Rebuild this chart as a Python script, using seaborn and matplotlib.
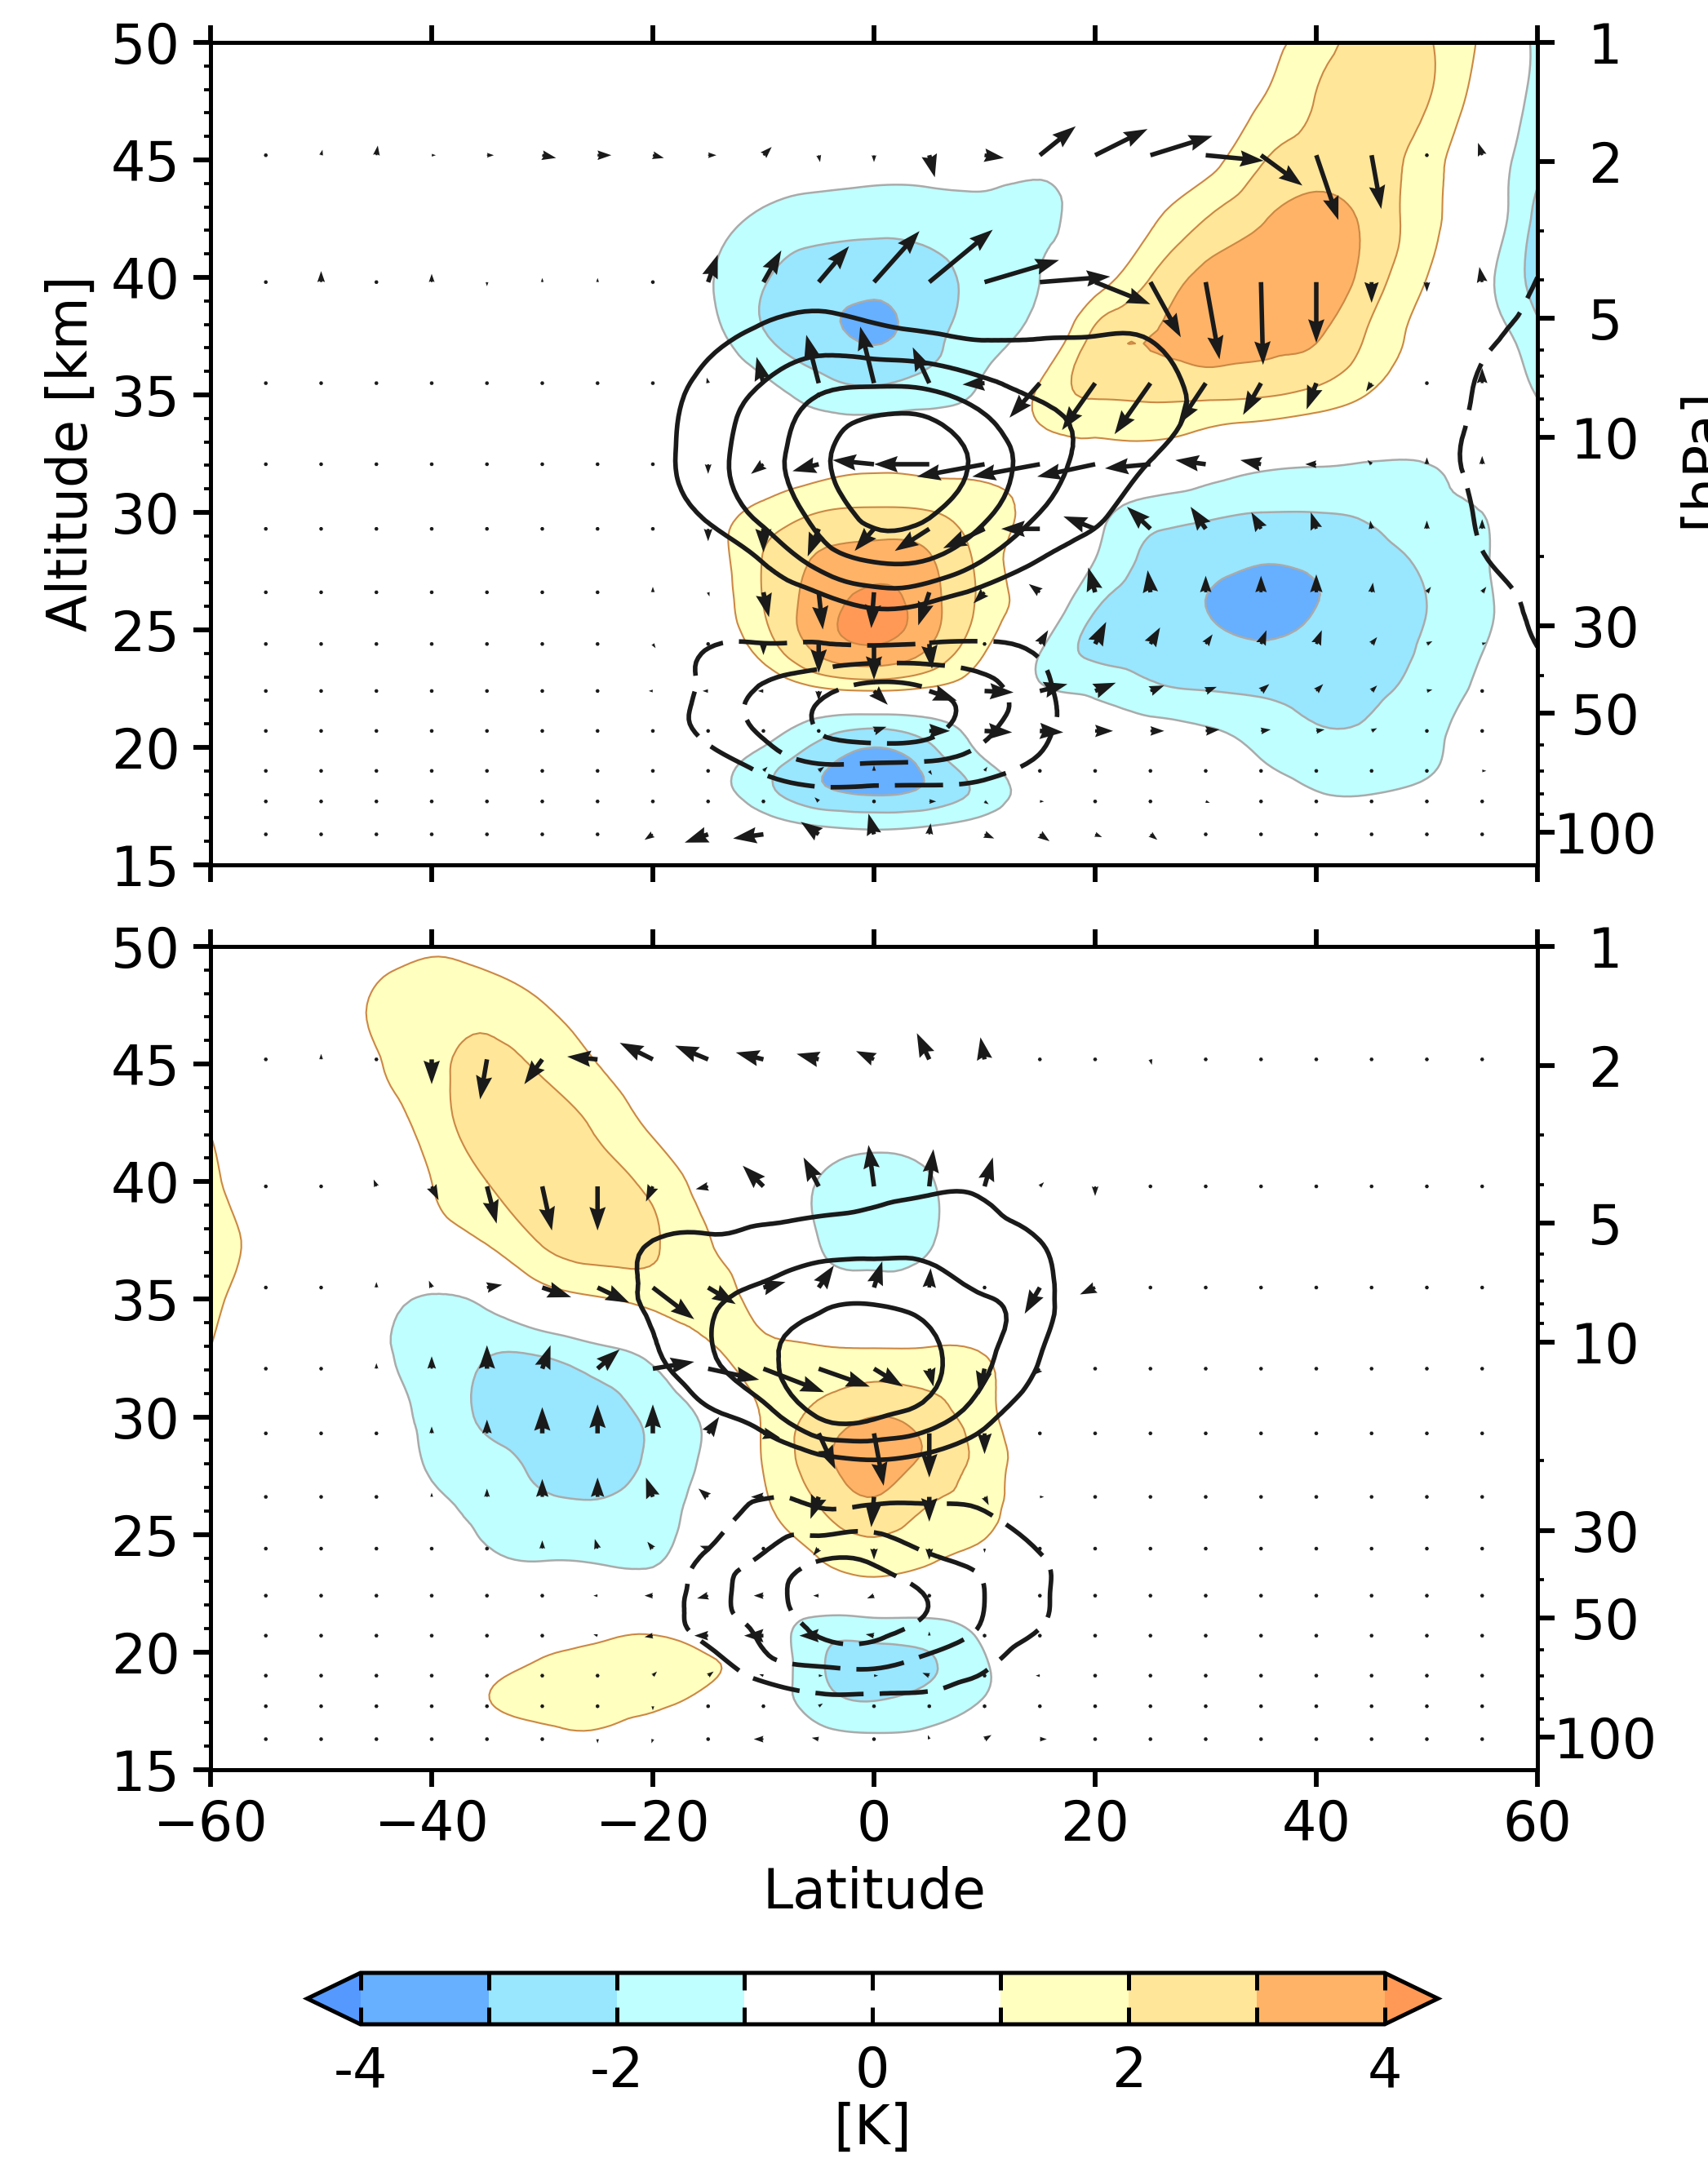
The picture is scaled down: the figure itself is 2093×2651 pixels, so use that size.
import numpy as np
import seaborn as sns
import matplotlib.pyplot as plt
from matplotlib.colors import ListedColormap, BoundaryNorm
from matplotlib.tri import Triangulation, UniformTriRefiner

W_PX, H_PX = 2093, 2651

# grid of the temperature and line fields
FIELD_LAT = [-60, -55, -50, -45, -40, -35, -30, -25, -20, -15, -10, -5, 0, 5, 10, 15, 20, 25, 30, 35, 40, 45, 50, 55, 60]
FIELD_ALT = [15, 16.5, 18, 19.5, 21, 22.5, 24, 26, 28, 30, 32.5, 35, 37.5, 40, 42.5, 45, 47.5, 50]

T_TOP = [
    [0,0,0,0,0, 0,0,0,0,0, 0,-.1,-.3,-.1,0, 0,0,0,0,0, 0,0,0,0,0],
    [0,0,0,0,0, 0,0,0,0,-.1, -.4,-.8,-1.0,-.8,-.4, -.1,0,0,0,-.1, -.3,-.3,-.1,0,0],
    [0,0,0,0,0, 0,0,0,0,-.5, -1.6,-2.7,-3.05,-2.7,-1.6, -.5,0,-.1,-.2,-.5, -.95,-1.0,-.7,-.2,0],
    [0,0,0,0,0, 0,0,0,0,-.4, -1.4,-2.6,-3.4,-2.5,-1.0, -.2,-.1,-.3,-.6,-1.0, -1.4,-1.5,-1.2,-.4,0],
    [0,0,0,0,0, 0,0,0,0,0, -.4,-1.3,-1.7,-1.3,-.5, -.3,-.7,-.8,-1.05,-1.4, -2.0,-1.9,-1.3,-.6,0],
    [0,0,0,0,0, 0,0,0,0,0, .2,.9,1.2,.9,.2, -.9,-1.2,-1.8,-2.05,-2.2, -2.35,-2.2,-1.6,-.8,-.1],
    [0,0,0,0,0, 0,0,0,0,.1, 1.3,3.1,3.7,2.8,1.0, -1.0,-2.2,-2.4,-2.6,-2.8, -2.7,-2.5,-1.8,-1.0,-.2],
    [0,0,0,0,0, 0,0,0,0,.3, 2.0,3.5,4.3,3.4,1.7, 0,-1.9,-2.6,-3.0,-3.4, -3.0,-2.6,-2.0,-1.2,-.2],
    [0,0,0,0,0, 0,0,0,0,.4, 2.05,3.1,3.5,3.1,1.6, .1,-1.0,-2.3,-2.6,-2.9, -2.8,-2.5,-1.75,-1.1,-.2],
    [0,0,0,0,0, 0,0,0,0,.5, 1.3,2.0,2.15,2.05,1.4, .6,-.6,-1.5,-1.8,-2.0, -2.0,-1.8,-1.2,-1.0,-.2],
    [0,0,0,0,0, 0,0,0,0,0, 0,.2,.4,.3,.4, .6,.6,.6,.1,-.4, -.6,-.8,-.85,-.4,0],
    [0,0,0,0,0, 0,0,0,0,-.1, -.6,-1.4,-1.7,-1.4,-.7, 1.2,2.1,2.2,2.2,2.1, 1.7,.9,.2,0,-1.05],
    [0,0,0,0,0, 0,0,0,-.1,-.6, -1.9,-2.7,-3.1,-2.4,-1.35, -.3,2.3,3.0,3.4,3.3, 3.1,1.8,.6,-.3,-1.7],
    [0,0,0,0,0, 0,0,0,-.3,-.9, -1.9,-2.5,-2.7,-2.4,-1.6, -1.0,.4,2.0,3.3,3.7, 3.7,2.5,1.0,-.6,-2.4],
    [0,0,0,0,0, 0,0,0,-.1,-.5, -1.2,-1.5,-1.6,-1.5,-1.3, -1.2,-.4,.8,2.0,2.9, 3.4,2.7,1.35,-.1,-2.3],
    [0,0,0,0,0, 0,0,0,0,-.1, -.3,-.5,-.6,-.6,-.6, -.8,-.5,.1,.6,1.9, 2.5,2.4,1.5,-.1,-1.7],
    [0,0,0,0,0, 0,0,0,0,0, 0,0,0,0,0, 0,0,.2,.4,1.0, 2.05,2.6,2.05,.4,-1.4],
    [0,0,0,0,0, 0,0,0,0,0, 0,0,0,0,0, 0,0,0,.3,.7, 1.5,2.5,2.1,.8,-1.3],
]

T_BOT = [
    [0,0,0,0,0, 0,0,0,0,0, 0,0,0,0,0, 0,0,0,0,0, 0,0,0,0,0],
    [0,0,0,0,0, .2,.7,.9,.5,.2, 0,-.7,-.95,-.8,-.2, 0,0,0,0,0, 0,0,0,0,0],
    [0,0,0,0,0, .95,1.5,1.4,1.3,.7, -.2,-1.6,-2.05,-1.7,-.95, 0,0,0,0,0, 0,0,0,0,0],
    [0,0,0,0,0, .4,1.15,1.4,1.5,1.15, .1,-1.85,-2.4,-2.1,-1.1, -.1,0,0,0,0, 0,0,0,0,0],
    [0,0,0,0,0, 0,.3,.6,.8,.3, -.3,-1.5,-1.5,-1.4,-.7, 0,0,0,0,0, 0,0,0,0,0],
    [0,0,0,0,0, -.1,-.4,-.4,-.4,0, 0,.1,.3,.1,0, 0,0,0,0,0, 0,0,0,0,0],
    [0,0,0,0,0, -.8,-1.05,-1.1,-1.1,-.3, .5,1.0,1.5,1.1,.7, 0,0,0,0,0, 0,0,0,0,0],
    [0,0,0,0,-.6, -1.3,-1.7,-1.8,-1.4,-.5, .8,1.9,2.7,1.9,1.4, 0,0,0,0,0, 0,0,0,0,0],
    [0,0,0,0,-1.15, -1.6,-2.3,-2.5,-1.8,-.7, 1.05,2.6,3.5,2.7,1.6, .2,0,0,0,0, 0,0,0,0,0],
    [0,0,0,-.5,-1.3, -2.2,-2.6,-2.4,-1.8,-.7, 1.1,2.3,3.0,2.5,1.35, .1,0,0,0,0, 0,0,0,0,0],
    [.9,0,0,-.75,-1.4, -2.0,-2.05,-1.5,-.8,.6, 1.3,1.3,1.3,1.3,1.05, .2,0,0,0,0, 0,0,0,0,0],
    [1.4,.2,0,-.6,-1.1, -.7,.4,.9,1.35,1.5, .5,-.3,-.4,-.3,0, 0,0,0,0,0, 0,0,0,0,0],
    [1.6,.55,0,0,.4, 1.1,2.1,2.5,2.15,1.05, .2,-1.0,-1.4,-1.1,-.1, 0,0,0,0,0, 0,0,0,0,0],
    [1.3,.2,0,0,1.0, 2.0,2.5,2.4,1.7,.6, 0,-1.05,-1.5,-1.1,-.1, 0,0,0,0,0, 0,0,0,0,0],
    [.9,.1,0,.4,1.5, 2.5,2.6,1.8,.8,.2, 0,-.2,-.4,-.2,0, 0,0,0,0,0, 0,0,0,0,0],
    [.2,0,0,.9,1.7, 2.3,1.8,1.0,.4,.1, 0,0,0,0,0, 0,0,0,0,0, 0,0,0,0,0],
    [0,0,.1,1.2,1.7, 1.6,1.05,.5,.1,0, 0,0,0,0,0, 0,0,0,0,0, 0,0,0,0,0],
    [0,0,0,.4,.85, .55,.1,0,0,0, 0,0,0,0,0, 0,0,0,0,0, 0,0,0,0,0],
]

C_TOP = [
    [0,0,0,0,0, 0,0,0,0,0, 0,0,0,0,0, 0,0,0,0,0, 0,0,0,0,0],
    [0,0,0,0,0, 0,0,0,0,0, 0,0,0,0,0, 0,0,0,0,0, 0,0,0,0,0],
    [0,0,0,0,0, 0,0,0,0,0, -.4,-.7,-.7,-.7,-.6, -.2,0,0,0,0, 0,0,0,0,0],
    [0,0,0,0,0, 0,0,0,0,-.6, -1.5,-2.2,-2.2,-2.1,-1.6, -.9,-.1,0,0,0, 0,0,0,0,0],
    [0,0,0,0,0, 0,0,0,-.35,-1.35, -2.2,-3.1,-3.7,-3.4,-2.3, -1.3,-.3,0,0,0, 0,0,0,0,0],
    [0,0,0,0,0, 0,0,0,-.3,-1.25, -2.1,-2.7,-3.3,-3.0,-2.3, -1.3,-.2,0,0,0, 0,0,0,0,0],
    [0,0,0,0,0, 0,0,0,-.1,-1.1, -1.3,-1.4,-1.45,-1.5,-1.4, -.9,0,0,0,0, 0,0,0,0,-.9],
    [0,0,0,0,0, 0,0,0,0,0, 0,.4,1.1,.8,.2, 0,0,0,0,0, 0,0,0,-.4,-1.3],
    [0,0,0,0,0, 0,0,0,0,.3, 1.1,2.4,3.1,3.0,2.0, 1.0,.5,.2,0,0, 0,0,0,-.9,-1.6],
    [0,0,0,0,0, 0,0,0,.4,1.2, 2.3,3.3,4.3,4.1,3.2, 2.0,1.2,.5,.1,0, 0,0,-.1,-1.2,-1.7],
    [0,0,0,0,0, 0,0,0,.6,1.6, 2.6,3.7,4.8,4.7,3.6, 2.5,1.7,1.1,.3,0, 0,0,-.4,-1.4,-1.8],
    [0,0,0,0,0, 0,0,0,.5,1.4, 2.2,3.0,3.3,3.2,2.5, 1.9,1.8,1.6,.6,0, 0,0,-.2,-1.2,-1.7],
    [0,0,0,0,0, 0,0,0,.1,.7, 1.2,1.5,1.3,1.1,.9, .95,1.0,.92,.1,0, 0,0,-.1,-.7,-1.6],
    [0,0,0,0,0, 0,0,0,0,.1, .4,.5,.4,.2,.1, .1,.1,.1,0,0, 0,0,0,0,-1.0],
    [0,0,0,0,0, 0,0,0,0,0, 0,0,0,0,0, 0,0,0,0,0, 0,0,0,0,-.2],
    [0,0,0,0,0, 0,0,0,0,0, 0,0,0,0,0, 0,0,0,0,0, 0,0,0,0,0],
    [0,0,0,0,0, 0,0,0,0,0, 0,0,0,0,0, 0,0,0,0,0, 0,0,0,0,0],
    [0,0,0,0,0, 0,0,0,0,0, 0,0,0,0,0, 0,0,0,0,0, 0,0,0,0,0],
]

C_BOT = [
    [0,0,0,0,0, 0,0,0,0,0, 0,0,0,0,0, 0,0,0,0,0, 0,0,0,0,0],
    [0,0,0,0,0, 0,0,0,0,0, 0,0,0,0,0, 0,0,0,0,0, 0,0,0,0,0],
    [0,0,0,0,0, 0,0,0,0,0, -.3,-.8,-.8,-.8,-.4, 0,0,0,0,0, 0,0,0,0,0],
    [0,0,0,0,0, 0,0,0,0,-.5, -1.7,-2.1,-2.2,-1.7,-1.2, -.1,0,0,0,0, 0,0,0,0,0],
    [0,0,0,0,0, 0,0,0,-.3,-1.4, -2.2,-3.2,-3.3,-2.7,-1.9, -1.0,0,0,0,0, 0,0,0,0,0],
    [0,0,0,0,0, 0,0,0,-.4,-1.5, -2.6,-3.4,-3.5,-2.9,-2.0, -1.2,-.2,0,0,0, 0,0,0,0,0],
    [0,0,0,0,0, 0,0,0,-.1,-1.2, -2.1,-2.9,-2.8,-2.1,-1.8, -1.1,-.1,0,0,0, 0,0,0,0,0],
    [0,0,0,0,0, 0,0,0,0,-.3, -1.3,-1.1,-1.25,-1.2,-1.0, -.2,0,0,0,0, 0,0,0,0,0],
    [0,0,0,0,0, 0,0,0,0,0, .1,.5,.8,.5,.1, 0,0,0,0,0, 0,0,0,0,0],
    [0,0,0,0,0, 0,0,0,0,.8, 1.5,3.05,3.1,2.5,1.3, .3,0,0,0,0, 0,0,0,0,0],
    [0,0,0,0,0, 0,0,0,.8,1.85, 2.8,3.4,3.6,3.2,2.2, 1.0,0,0,0,0, 0,0,0,0,0],
    [0,0,0,0,0, 0,0,.7,1.1,1.8, 2.3,2.8,2.9,2.6,2.05, 1.4,.1,0,0,0, 0,0,0,0,0],
    [0,0,0,0,0, 0,0,.4,1.0,1.1, 1.25,1.5,1.6,1.65,1.4, 1.0,0,0,0,0, 0,0,0,0,0],
    [0,0,0,0,0, 0,0,0,0,.3, .4,.4,.6,.8,.8, .3,0,0,0,0, 0,0,0,0,0],
    [0,0,0,0,0, 0,0,0,0,0, 0,0,0,0,0, 0,0,0,0,0, 0,0,0,0,0],
    [0,0,0,0,0, 0,0,0,0,0, 0,0,0,0,0, 0,0,0,0,0, 0,0,0,0,0],
    [0,0,0,0,0, 0,0,0,0,0, 0,0,0,0,0, 0,0,0,0,0, 0,0,0,0,0],
    [0,0,0,0,0, 0,0,0,0,0, 0,0,0,0,0, 0,0,0,0,0, 0,0,0,0,0],
]

# arrows sit on their own grid, values are lengths
ARROW_LAT = [-55, -50, -45, -40, -35, -30, -25, -20, -15, -10, -5, 0, 5, 10, 15, 20, 25, 30, 35, 40, 45, 50, 55]
ARROW_ALT = [16.3, 17.7, 19.0, 20.7, 22.4, 24.4, 26.6, 29.3, 32.05, 35.5, 39.8, 45.2]

U_TOP = [
    [0,0,0,0,0,0,0,-6,-17,-22,-13,-4,1,7,7,5,5,0,0,0,0,0,0],
    [0,0,0,0,0,0,0,0,0,-1,-3,0,5,3,3,0,0,3,0,0,0,0,0],
    [0,0,0,0,0,0,0,0,0,3,4,0,2,2,0,0,0,0,0,0,0,0,3],
    [0,0,0,0,0,0,0,-1,0,1,0,9,15,20,17,13,10,10,7,6,4,0,0],
    [0,0,0,0,0,0,0,-3,-4,-4,0,10,20,21,20,15,10,8,6,5,4,4,0],
    [0,0,0,0,0,0,0,2,0,0,0,0,2,0,6,8,7,5,4,4,4,4,3],
    [0,0,0,0,0,0,0,0,1,4,3,-2,-8,-8,-8,-5,-2,0,0,0,1,3,3],
    [0,0,0,0,0,0,0,0,0,0,-8,-14,-25,-30,-28,-23,-17,-11,-7,-4,-1,0,0],
    [0,0,0,0,0,0,0,0,0,-9,-19,-30,-40,-49,-49,-42,-33,-22,-15,-8,-3,0,0],
    [0,0,0,0,0,0,0,0,-1,-5,-9,-10,-12,-16,-22,-24,-26,-20,-13,-7,-4,0,0],
    [0,0,0,0,0,0,0,2,7,13,22,33,46,54,51,40,22,10,1.5,0,0,0,-2],
    [0,1,1,3,5,10,10,8,6,6,1,0,4,14,26,38,45,42,30,16,7,1,-3],
]
W_TOP = [
    [0,0,0,0,0,0,0,-4,-6,-3,9,15,8,-3,-5,-2,-4,0,2,2,0,0,0],
    [0,0,0,0,0,0,0,0,0,2,3,2,0,-2,0,0,0,-1,0,0,0,0,0],
    [0,0,0,0,0,0,0,0,0,3,3,4,-3,3,0,0,0,0,0,0,0,0,0],
    [0,0,0,0,0,0,0,2,0,-1,0,3,0,-1,-1,0,0,1,1,1,2,0,0],
    [0,0,0,0,0,0,0,0,0,0,-7,-10,-7,-1,5,6,4,3,5,5,4,1,0],
    [0,0,0,0,0,0,0,-3,0,-8,-21,-26,-18,0,10,16,12,7,10,10,5,2,1],
    [0,0,0,0,0,0,0,4,-3,-18,-27,-26,-24,-8,6,18,16,12,12,13,7,4,4],
    [0,0,0,0,0,0,0,0,-9,-17,-20,-16,-16,-14,0,9,16,16,12,12,6,6,7],
    [0,0,0,0,0,0,0,0,-7,-7,-5,3,0,-9,-9,-9,-3,3,3,0,3,5,6],
    [0,0,0,0,0,0,0,0,4,19,35,41,26,-1,-25,-34,-37,-30,-23,-19,-6,0,11],
    [0,8,0,6,-3,3,3,1,20,23,26,37,38,16,4,-16,-40,-56,-60,-44,-15,-7,11],
    [0,4,7,0,0,-2,0,-2,0,6,-5,-5,-16,-2,21,19,14,-4,-22,-47,-39,2,9],
]

U_BOT = [
    [0,0,0,0,0,0,0,-1,2,-7,-5,0,-1,5,5,0,0,0,0,0,0,0,0],
    [0,0,0,0,0,0,0,0,0,2,3,0,0,0,0,0,0,0,0,0,0,0,0],
    [0,0,0,0,0,0,1,3,4,-3,3,3,-5,0,-3,0,0,0,0,0,0,0,0],
    [0,0,0,0,0,0,-3,-6,-10,-14,-14,-6,0,-2,0,0,0,0,0,0,0,0,0],
    [0,0,0,0,0,0,-3,-6,-8,-7,-4,-5,-2,-1,0,0,0,0,0,0,0,0,0],
    [0,0,0,0,0,0,-2,-4,-6,0,-4,0,0,0,0,0,0,0,0,0,0,0,0],
    [0,0,0,0,0,0,0,-5,-7,-9,-6,-2,0,3,3,0,0,0,0,0,0,0,0],
    [0,0,0,0,0,0,0,0,8,12,12,7,0,0,-2,0,0,0,0,0,0,0,0],
    [0,0,0,0,0,6,16,30,37,44,37,21,3,-4,-6,-2,0,0,0,0,0,0,0],
    [0,0,0,-2,11,21,23,30,20,16,11,6,1,-2,-11,-11,0,2,1,0,0,0,0],
    [0,0,-2,5,7,7,0,-5,-9,-15,-11,-4,3,6,3,0,2,2,0,0,0,0,0],
    [0,0,0,0,-5,-13,-22,-24,-24,-20,-16,-13,-9,-3,0,0,1,1,0,0,0,0,0],
]
W_BOT = [
    [0,0,0,0,0,0,-3,-3,2,0,1,2,3,3,0,0,0,0,0,0,0,0,0],
    [0,0,0,0,0,0,-2,-3,-2,0,2,0,2,2,0,0,0,0,0,0,0,0,0],
    [0,0,0,0,0,0,0,3,3,1,0,0,2,0,0,0,0,0,0,0,0,0,0],
    [0,0,0,0,0,0,1,-1,0,0,0,1,3,1,0,0,0,0,0,0,0,0,0],
    [0,0,0,0,0,0,0,0,-2,0,0,-2,0,0,0,0,0,0,0,0,0,0,0],
    [0,0,0,0,1,6,7,5,2,0,-5,-8,-8,-3,0,0,0,0,0,0,0,0,0],
    [0,0,0,3,6,13,14,14,6,0,-16,-22,-18,-6,0,0,0,0,0,0,0,0,0],
    [0,0,0,5,10,19,21,21,12,-3,-26,-38,-32,-15,-1,0,0,0,0,0,0,0,0],
    [0,0,4,9,17,17,14,5,-8,-17,-13,-13,-13,-19,-5,0,0,0,0,0,0,0,0],
    [0,0,4,5,2,-7,-11,-23,-12,4,16,19,14,0,-19,-5,2,-2,-1,0,0,0,0],
    [0,0,5,-10,-27,-32,-32,-11,-2,15,21,30,27,21,3,-7,2,0,0,0,0,0,0],
    [0,4,0,-18,-29,-18,2,12,10,5,4,6,19,16,0,0,-4,2,0,0,0,0,0],
]

T_LEVELS = [-4, -3, -2, -1, 0, 1, 2, 3, 4]
T_COLORS = ['#66b0ff', '#99e6ff', '#bfffff', '#ffffff', '#ffffff', '#ffffbf', '#ffe699', '#ffb366']
T_UNDER, T_OVER = '#5599ff', '#ff9955'
CBAR_LABELS = ['-4', '', '-2', '', '0', '', '2', '', '4']

P_MAJOR = [1, 2, 5, 10, 30, 50, 100]
P_MINOR = [3, 4, 6, 7, 8, 9, 20, 40, 60, 70, 80, 90]

FONT = 16

sns.set_theme(style='ticks', rc={
    'font.family': 'DejaVu Sans', 'font.size': FONT,
    'text.color': 'black', 'axes.labelcolor': 'black',
    'xtick.color': 'black', 'ytick.color': 'black',
    'axes.edgecolor': 'black', 'axes.linewidth': 1.2,
})
cmap = ListedColormap(sns.color_palette(T_COLORS))
cmap.set_under(T_UNDER)
cmap.set_over(T_OVER)
norm = BoundaryNorm(T_LEVELS, cmap.N)


def p2z(p):
    return 50 - 7.3 * np.log(np.asarray(p, dtype=float))


def smooth(field):
    lat2d, alt2d = np.meshgrid(FIELD_LAT, FIELD_ALT)
    tri = Triangulation(lat2d.ravel(), alt2d.ravel())
    return UniformTriRefiner(tri).refine_field(np.array(field, dtype=float).ravel(), subdiv=3)


def draw_panel(ax, temp, line, u, w):
    tri, z = smooth(temp)
    cf = ax.tricontourf(tri, z, levels=T_LEVELS, cmap=cmap, norm=norm, extend='both')
    ax.tricontour(tri, z, levels=[1, 2, 3, 4], colors='#cc8844', linewidths=0.5, linestyles='solid')
    ax.tricontour(tri, z, levels=[-4, -3, -2, -1], colors='#aaaaaa', linewidths=0.6, linestyles='solid')

    tri, z = smooth(line)
    ax.tricontour(tri, z, levels=[1, 2, 3, 4], colors='k', linewidths=1.35, linestyles='solid')
    ax.tricontour(tri, z, levels=[-3, -2, -1], colors='k', linewidths=1.35, linestyles=[(0, (10.5, 3.5))])

    lon_q, alt_q = np.meshgrid(ARROW_LAT, ARROW_ALT)
    ax.quiver(lon_q, alt_q, np.array(u, dtype=float), np.array(w, dtype=float), angles='uv',
              scale_units='inches', scale=177.5, units='inches', width=0.0185,
              headwidth=3.6, headlength=5.2, headaxislength=4.7, minlength=0.9,
              pivot='tail', color='k', zorder=5)

    ax.set_xlim(-60, 60)
    ax.set_ylim(15, 50)
    ax.set_xticks(range(-60, 61, 20))
    ax.set_yticks(range(15, 51, 5))
    ax.set_yticks(range(15, 51), minor=True)
    ax.tick_params(axis='x', which='major', top=True, bottom=True, direction='out', length=5, width=1.4, labelsize=FONT)
    ax.tick_params(axis='y', which='major', direction='out', length=5, width=1.4, labelsize=FONT, pad=4)
    ax.tick_params(axis='y', which='minor', direction='out', length=2, width=0.9)

    rax = ax.twinx()
    rax.set_ylim(15, 50)
    rax.set_yticks(p2z(P_MAJOR))
    rax.set_yticklabels([str(p) for p in P_MAJOR], ha='center')
    rax.set_yticks(p2z(P_MINOR), minor=True)
    rax.tick_params(axis='y', which='major', direction='out', length=5, width=1.4, labelsize=FONT, pad=15)
    rax.tick_params(axis='y', which='minor', direction='out', length=2, width=0.9)
    sns.despine(ax=ax, top=False, right=False)
    sns.despine(ax=rax, top=False, right=False)
    return cf


def axes_box(left, right, top, bottom):
    return [left / W_PX, 1 - bottom / H_PX, (right - left) / W_PX, (bottom - top) / H_PX]


fig = plt.figure(figsize=(W_PX / 300, H_PX / 300), dpi=300)
ax_top = fig.add_axes(axes_box(258, 1884, 52, 1060))
ax_bot = fig.add_axes(axes_box(258, 1884, 1160, 2169))

draw_panel(ax_top, T_TOP, C_TOP, U_TOP, W_TOP)
cf = draw_panel(ax_bot, T_BOT, C_BOT, U_BOT, W_BOT)

ax_top.tick_params(axis='x', labelbottom=False)
ax_top.set_ylabel('Altitude [km]', fontsize=FONT, labelpad=3.6)
ax_bot.set_xlabel('Latitude', fontsize=FONT, labelpad=4)
fig.text(2054 / W_PX, 1 - 561 / H_PX, '[hPa]', rotation=90, ha='left', va='center', fontsize=FONT)

cax = fig.add_axes(axes_box(376.5, 1762, 2418, 2481))
cb = fig.colorbar(cf, cax=cax, orientation='horizontal', extend='both', extendfrac=0.052, spacing='proportional')
cb.set_ticks(T_LEVELS, labels=CBAR_LABELS)
cax.set_axisbelow(False)
cax.tick_params(axis='x', which='major', top=True, bottom=True, direction='in', length=5, width=1.2, labelsize=FONT, pad=6)
cax.minorticks_off()
cb.outline.set_linewidth(1.2)
cb.set_label('[K]', fontsize=FONT, labelpad=1)

fig.savefig('out.png', dpi=300)
